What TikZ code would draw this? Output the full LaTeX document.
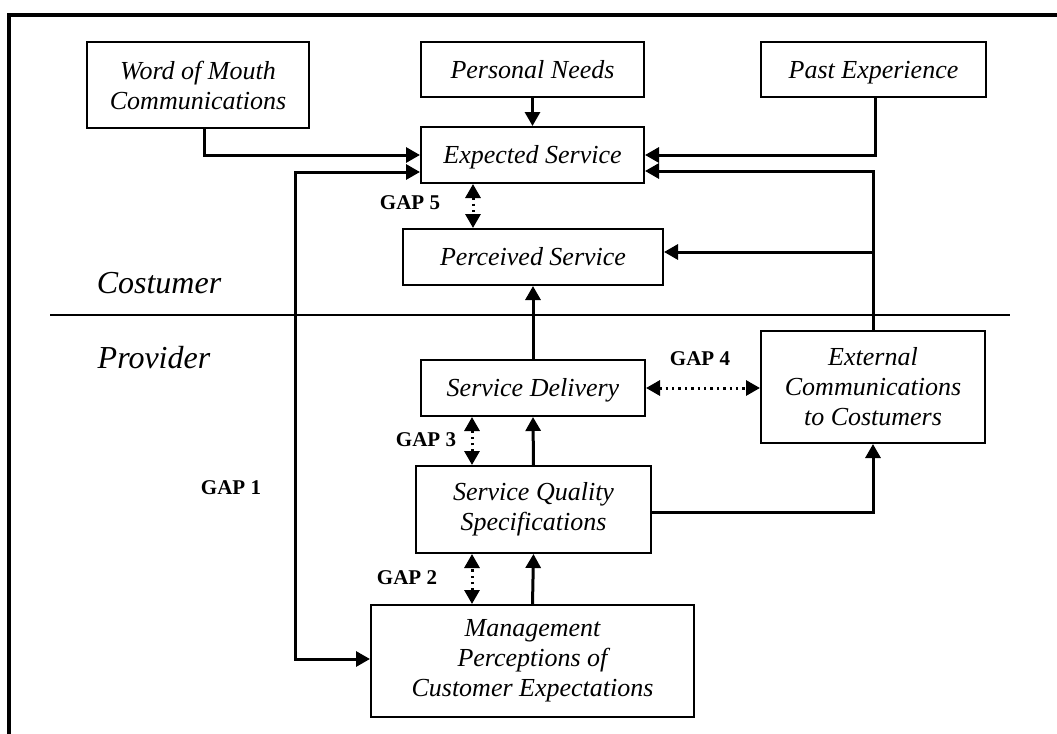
\documentclass[tikz,border=0pt]{standalone}
\usepackage{fontspec}
\setmainfont{Liberation Serif}
\usetikzlibrary{arrows.meta,calc}
\begin{document}
\begin{tikzpicture}[x=0.5pt,y=-0.5pt,
  box/.style={draw,line width=1pt,rectangle,inner sep=0pt,align=center,
    font=\fontsize{13}{15}\selectfont\itshape},
  one/.style={text height=8.6pt,text depth=0pt},
  conn/.style={line width=1.5pt,-{Triangle[length=7pt,width=7.5pt]}},
  dconn/.style={line width=1.5pt,{Triangle[length=7pt,width=7.5pt]}-{Triangle[length=7pt,width=7.5pt]}},
  gap/.style={line width=1.5pt,dash pattern=on 1.2pt off 2pt,
    {Triangle[length=7pt,width=7.5pt]}-{Triangle[length=7pt,width=7.5pt]}},
  gaplabel/.style={font=\fontsize{10.5}{12}\selectfont\bfseries,inner sep=0pt},
  side/.style={font=\fontsize{16}{18}\selectfont\itshape,inner sep=0pt}]
\useasboundingbox (0,0) rectangle (1057,734);
\fill[white] (0,0) rectangle (1057,734);
% frame
\coordinate (fb) at (9,734);
\coordinate (fc) at (9,15);
\coordinate (fr) at (1057,15);
\draw[line width=2pt] (fb) -- (fc) -- (fr);
% boxes
\node[box,minimum width=111pt,minimum height=43pt] (wom) at (198,85) {Word of Mouth\\Communications};
\node[box,one,minimum width=111.5pt,minimum height=27.5pt] (pn) at (532.5,69.5) {Personal Needs};
\node[box,one,minimum width=112.5pt,minimum height=27.5pt] (pe) at (873.5,69.5) {Past Experience};
\node[box,one,minimum width=111.5pt,minimum height=28pt] (es) at (532.5,155) {Expected Service};
\node[box,one,minimum width=130pt,minimum height=28pt] (ps) at (533,257) {Perceived Service};
\node[box,one,minimum width=112pt,minimum height=28pt] (sd) at (533,388) {Service Delivery};
\node[box,minimum width=117.5pt,minimum height=43.5pt] (sqs) at (533.5,509.5) {Service Quality\\Specifications};
\node[box,minimum width=161.5pt,minimum height=56pt] (mg) at (532.5,661) {Management\\Perceptions of\\Customer Expectations};
\node[box,minimum width=112pt,minimum height=56pt] (ec) at (873,387) {External\\Communications\\to Costumers};
% divider
\coordinate (dl) at (50,315);
\coordinate (dr) at (1010,315);
\draw[line width=1pt] (dl) -- (dr);
\node[side] (cust) at (159,283) {Costumer};
\node[side] (prov) at (154,358) {Provider};
% connectors
\draw[conn] ([xshift=3pt]wom.south) |- (es.west);
\draw[conn] (pn.south) -- (es.north);
\draw[conn] ([xshift=0.75pt]pe.south) |- (es.east);
\coordinate (esr2) at ([yshift=-8pt]es.east);
\draw[conn] (ec.north) |- (esr2);
\coordinate (psr) at ([yshift=2.5pt]ps.east);
\draw[conn] (ec.north |- psr) -- (psr);
\coordinate (esl2) at ([yshift=-8.5pt]es.west);
\coordinate (g1) at (295,659);
\draw[dconn] (esl2) -| (g1) |- ([yshift=1pt]mg.west);
\coordinate (g5) at (473,0);
\draw[gap] (es.south -| g5) -- (ps.north -| g5);
\draw[conn] (sd.north) -- (ps.south);
\draw[gap] (sd.east) -- (sd.east -| ec.west);
\coordinate (g3) at (472,0);
\draw[gap] (sqs.north -| g3) -- (sd.south -| g3);
\draw[conn] (sqs.north) -- (sd.south);
\coordinate (sqr) at ([yshift=-1.25pt]sqs.east);
\draw[conn] (sqr) -| (ec.south);
\draw[gap] (mg.north -| g3) -- (sqs.south -| g3);
\draw[conn] (mg.north) -- (sqs.south);
% gap labels
\node[gaplabel] (l5) at (410,203) {GAP 5};
\node[gaplabel] (l4) at (700,359) {GAP 4};
\node[gaplabel] (l3) at (426,440) {GAP 3};
\node[gaplabel] (l2) at (407,578) {GAP 2};
\node[gaplabel] (l1) at (231,488) {GAP 1};
\end{tikzpicture}
\end{document}
